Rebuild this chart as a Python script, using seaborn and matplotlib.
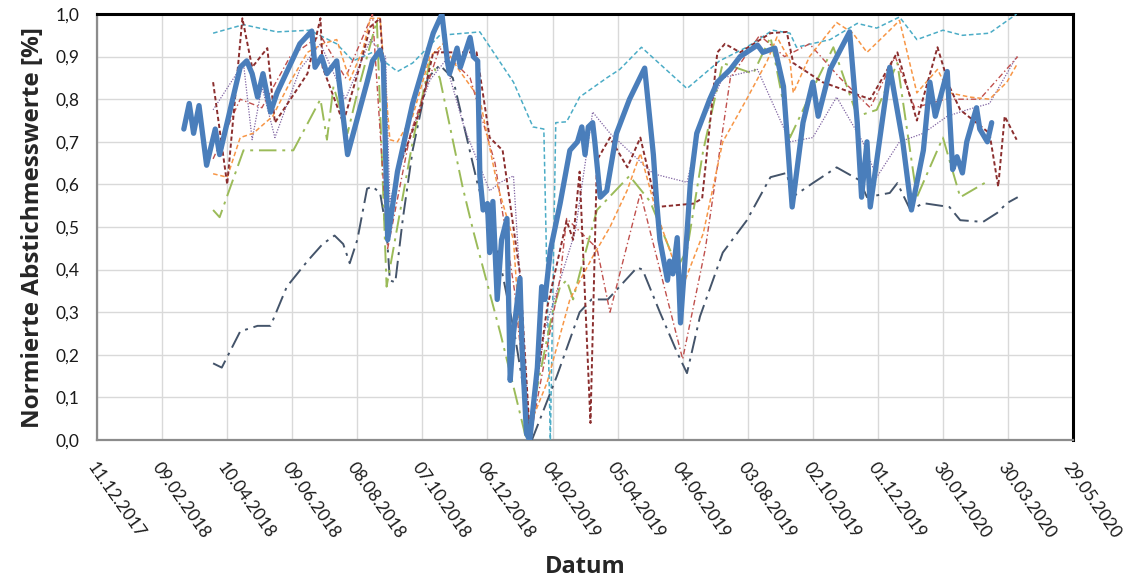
import numpy as np
import pandas as pd
import matplotlib
matplotlib.use("Agg")
import matplotlib.pyplot as plt
import matplotlib.dates as mdates
from matplotlib.ticker import FuncFormatter, MultipleLocator
import seaborn as sns

# Messtage (Tage seit dem 11.12.2017) und normierte Abstichmesswerte je Messstelle
START = "2017-12-11"

tage_gw1 = [80, 85, 89, 94, 101, 109, 113, 132, 138, 143, 148, 153, 160, 166, 187, 198, 201,
            207, 212, 221, 231, 249, 254, 261, 264, 268, 277, 291, 310, 318, 323, 325, 332, 335,
            344, 347, 351, 353, 356, 360, 362, 365, 369, 373, 378, 381, 384, 390, 392, 396, 399,
            406, 410, 413, 418, 427, 436, 443, 447, 450, 453, 457, 459, 464, 470, 479, 491, 505,
            513, 516, 519, 526, 528, 531, 535, 538, 544, 547, 553, 565, 572, 584, 593, 609, 614,
            625, 633, 641, 651, 660, 665, 676, 694, 701, 705, 710, 713, 731, 743, 751, 762, 768,
            773, 784, 789, 793, 798, 802, 811, 814, 821, 825]
werte_gw1 = [0.73, 0.79, 0.72, 0.785, 0.645, 0.73, 0.67, 0.875, 0.89, 0.86, 0.805, 0.86, 0.77,
             0.815, 0.93, 0.96, 0.875, 0.90, 0.86, 0.89, 0.67, 0.84, 0.89, 0.915, 0.885, 0.47,
             0.63, 0.79, 0.955, 1.0, 0.89, 0.86, 0.92, 0.875, 0.945, 0.90, 0.89, 0.62, 0.54,
             0.555, 0.44, 0.56, 0.33, 0.47, 0.52, 0.14, 0.25, 0.38, 0.21, 0.015, 0.0, 0.17, 0.36,
             0.33, 0.445, 0.555, 0.68, 0.70, 0.735, 0.67, 0.735, 0.745, 0.70, 0.57, 0.585, 0.72,
             0.80, 0.873, 0.67, 0.56, 0.47, 0.375, 0.42, 0.39, 0.475, 0.275, 0.485, 0.60, 0.72,
             0.80, 0.84, 0.87, 0.90, 0.927, 0.91, 0.92, 0.83, 0.547, 0.745, 0.84, 0.76, 0.87,
             0.958, 0.745, 0.57, 0.70, 0.547, 0.875, 0.70, 0.54, 0.68, 0.84, 0.76, 0.865, 0.635,
             0.665, 0.627, 0.70, 0.78, 0.73, 0.70, 0.745]

tage_gw2 = [107, 135, 166, 196, 221, 236, 254, 277, 291, 316, 353, 384, 402, 412, 418, 423, 433,
            445, 470, 482, 502, 544, 574, 599, 623, 639, 645, 676, 701, 719, 740, 756, 780, 798,
            823, 848]
werte_gw2 = [0.955, 0.975, 0.958, 0.962, 0.93, 0.89, 0.91, 0.865, 0.885, 0.95, 0.958, 0.84,
             0.735, 0.73, 0.0, 0.745, 0.747, 0.805, 0.85, 0.87, 0.922, 0.825, 0.89, 0.922, 0.962,
             0.955, 0.922, 0.94, 0.978, 0.967, 0.993, 0.94, 0.962, 0.95, 0.955, 1.0]

tage_gw3 = [107, 115, 132, 148, 160, 175, 194, 208, 219, 227, 233, 240, 249, 254, 261, 267, 270,
            275, 282, 291, 305, 316, 328, 351, 369, 385, 401, 424, 445, 456, 471, 498, 503, 519,
            535, 544, 556, 577, 599, 621, 636, 641, 660, 682, 703, 710, 731, 738, 750, 762, 786,
            796, 817, 830, 839, 849]
werte_gw3 = [0.18, 0.17, 0.255, 0.268, 0.268, 0.36, 0.42, 0.46, 0.48, 0.46, 0.415, 0.47, 0.59,
             0.595, 0.58, 0.49, 0.375, 0.37, 0.52, 0.68, 0.85, 0.88, 0.85, 0.60, 0.45, 0.25, 0.0,
             0.15, 0.30, 0.33, 0.33, 0.405, 0.40, 0.30, 0.205, 0.157, 0.29, 0.44, 0.515, 0.617,
             0.627, 0.57, 0.603, 0.64, 0.61, 0.57, 0.58, 0.603, 0.54, 0.556, 0.547, 0.516, 0.512,
             0.533, 0.556, 0.57]

tage_gw4 = [107, 120, 134, 143, 157, 164, 194, 206, 208, 227, 242, 252, 261, 264, 268, 277, 298,
            310, 350, 362, 374, 390, 399, 415, 433, 439, 445, 455, 461, 473, 489, 501, 516, 550,
            558, 572, 579, 593, 621, 636, 642, 669, 713, 738, 756, 775, 786, 796, 823, 831, 837,
            848]
werte_gw4 = [0.84, 0.60, 0.99, 0.875, 0.92, 0.745, 0.86, 0.99, 0.875, 0.745, 0.875, 0.97, 0.99,
             0.875, 0.49, 0.63, 0.775, 0.91, 0.91, 0.71, 0.68, 0.39, 0.015, 0.31, 0.515, 0.47,
             0.63, 0.04, 0.657, 0.71, 0.64, 0.71, 0.547, 0.555, 0.567, 0.91, 0.93, 0.91, 0.955,
             0.958, 0.885, 0.84, 0.80, 0.91, 0.75, 0.922, 0.83, 0.775, 0.72, 0.595, 0.76, 0.705]

tage_gw5 = [107, 120, 132, 144, 162, 178, 194, 208, 221, 233, 245, 252, 261, 270, 277, 291, 307,
            319, 332, 353, 369, 384, 396, 415, 436, 457, 473, 489, 501, 516, 540, 559, 577, 599,
            618, 627, 639, 642, 657, 682, 697, 710, 731, 740, 756, 775, 786, 805, 823, 839, 849]
werte_gw5 = [0.625, 0.617, 0.71, 0.72, 0.76, 0.84, 0.91, 0.93, 0.94, 0.845, 0.915, 0.99, 0.99,
             0.705, 0.70, 0.76, 0.90, 0.93, 0.875, 0.80, 0.60, 0.47, 0.015, 0.135, 0.33, 0.43,
             0.50, 0.587, 0.673, 0.533, 0.36, 0.485, 0.70, 0.80, 0.89, 0.946, 0.89, 0.815, 0.90,
             0.98, 0.955, 0.91, 0.962, 0.985, 0.815, 0.87, 0.815, 0.805, 0.80, 0.84, 0.885]

tage_gw6 = [107, 113, 135, 181, 206, 212, 218, 231, 240, 258, 267, 291, 307, 316, 337, 347, 372,
            396, 420, 427, 433, 439, 445, 461, 491, 510, 535, 544, 559, 577, 605, 621, 639, 664,
            679, 701, 719, 738, 756, 780, 796, 823]
werte_gw6 = [0.54, 0.523, 0.68, 0.68, 0.80, 0.705, 0.83, 0.72, 0.815, 0.985, 0.36, 0.70, 0.89,
             0.85, 0.595, 0.49, 0.25, 0.0, 0.30, 0.36, 0.375, 0.33, 0.39, 0.54, 0.62, 0.56, 0.405,
             0.445, 0.68, 0.885, 0.86, 0.946, 0.71, 0.845, 0.922, 0.76, 0.775, 0.885, 0.57, 0.71,
             0.57, 0.61]

tage_gw7 = [107, 135, 143, 152, 164, 187, 206, 229, 252, 266, 270, 284, 307, 321, 339, 362, 372,
            384, 399, 413, 441, 457, 473, 513, 544, 556, 577, 609, 639, 660, 682, 706, 719, 740,
            762, 784, 802, 823, 848]
werte_gw7 = [0.775, 0.885, 0.705, 0.83, 0.71, 0.87, 0.93, 0.80, 0.94, 0.90, 0.56, 0.68, 0.845,
             0.89, 0.73, 0.585, 0.605, 0.62, 0.01, 0.26, 0.49, 0.77, 0.72, 0.625, 0.605, 0.735,
             0.85, 0.87, 0.70, 0.71, 0.805, 0.70, 0.617, 0.70, 0.72, 0.76, 0.775, 0.79, 0.90]

tage_gw8 = [107, 132, 152, 178, 206, 229, 254, 268, 289, 316, 344, 367, 385, 399, 427, 433, 461,
            473, 501, 519, 540, 561, 584, 611, 634, 657, 685, 713, 736, 754, 782, 814, 849]
werte_gw8 = [0.66, 0.80, 0.78, 0.90, 0.95, 0.85, 1.0, 0.45, 0.72, 0.92, 0.85, 0.65, 0.35, 0.0,
             0.38, 0.52, 0.45, 0.30, 0.58, 0.40, 0.19, 0.45, 0.85, 0.95, 0.90, 0.93, 0.85, 0.78,
             0.90, 0.78, 0.80, 0.80, 0.90]

# Darstellung je Messstelle: (Tage, Werte, Farbe, Linienbreite, Strichmuster, Ebene)
reihen = [
    (tage_gw2, werte_gw2, "#4BACC6", 1.1, (0, (3, 1.8)), 3),
    (tage_gw3, werte_gw3, "#44546A", 1.4, (0, (9, 3, 1.5, 3)), 3),
    (tage_gw6, werte_gw6, "#9BBB59", 1.4, (0, (9, 3, 1.5, 3)), 3),
    (tage_gw7, werte_gw7, "#8064A2", 0.9, (0, (1, 1.2)), 3),
    (tage_gw8, werte_gw8, "#C0504D", 1.0, (0, (4, 2, 1, 2)), 3),
    (tage_gw5, werte_gw5, "#F79646", 1.1, (0, (3, 1.8)), 4),
    (tage_gw4, werte_gw4, "#8B2E2E", 1.4, (0, (2.2, 1.4)), 4),
    (tage_gw1, werte_gw1, "#4A7EBB", 3.8, "-", 5),
]

sns.set_theme(style="white")
plt.rcParams["font.family"] = ["Lato", "DejaVu Sans"]

fig = plt.figure(figsize=(11.42, 5.77), dpi=100)
ax = fig.add_axes([0.085, 0.2374, 0.8546, 0.7383])

t0 = pd.Timestamp(START)
for tage, werte, farbe, lw, muster, z in reihen:
    df = pd.DataFrame({"Datum": t0 + pd.to_timedelta(tage, unit="D"), "Wert": werte})
    sns.lineplot(data=df, x="Datum", y="Wert", ax=ax, color=farbe, linewidth=lw,
                 linestyle=muster, estimator=None, sort=False, zorder=z)

# Achsen
ticks = [t0 + pd.Timedelta(days=60 * i) for i in range(16)]
ax.set_xlim(ticks[0], ticks[-1])
ax.set_xticks(ticks)
ax.xaxis.set_major_formatter(mdates.DateFormatter("%d.%m.%Y"))
ax.set_ylim(0, 1.0)
ax.yaxis.set_major_locator(MultipleLocator(0.1))
ax.yaxis.set_major_formatter(FuncFormatter(lambda v, _: f"{v:.1f}".replace(".", ",")))

ax.grid(True, color="#D9D9D9", linewidth=1.0, zorder=0)
ax.set_axisbelow(True)
ax.tick_params(axis="both", length=0, labelsize=12.5, colors="#1a1a1a")
ax.tick_params(axis="y", pad=13)
ax.tick_params(axis="x", pad=14)
for lab in ax.get_xticklabels():
    lab.set_rotation(-55)
    lab.set_ha("left")
    lab.set_va("top")
    lab.set_rotation_mode("anchor")

for side in ("left", "bottom"):
    ax.spines[side].set_color("#8C8C8C")
    ax.spines[side].set_linewidth(1.6)
for side in ("top", "right"):
    ax.spines[side].set_color("#000000")
    ax.spines[side].set_linewidth(2.2)

ax.set_xlabel("Datum", fontsize=17, fontweight="bold", family=["Open Sans", "DejaVu Sans"],
              labelpad=10)
ax.set_ylabel("Normierte Abstichmesswerte [%]", fontsize=17.5, fontweight="bold",
              family=["Open Sans", "DejaVu Sans"], labelpad=7)

fig.savefig("out.png", dpi=100, facecolor="white")
